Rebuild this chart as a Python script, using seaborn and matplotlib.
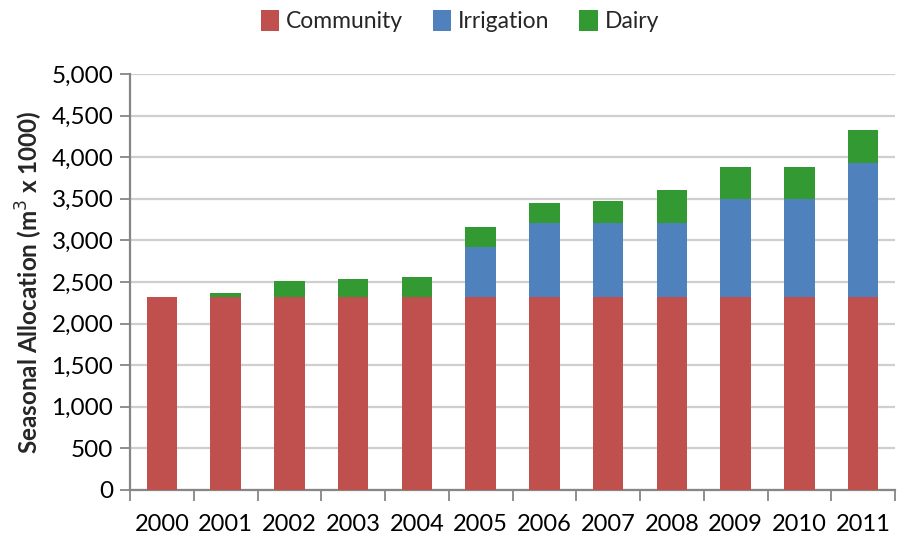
import matplotlib
matplotlib.use("Agg")
import matplotlib.pyplot as plt
import numpy as np
import pandas as pd
import seaborn as sns
from matplotlib.patches import Patch
from matplotlib.ticker import FuncFormatter, MultipleLocator, FixedLocator

years = ["2000", "2001", "2002", "2003", "2004", "2005",
         "2006", "2007", "2008", "2009", "2010", "2011"]
community = [2320, 2320, 2320, 2320, 2320, 2320, 2320, 2320, 2320, 2320, 2320, 2320]
irrigation = [0, 0, 0, 0, 0, 600, 890, 890, 890, 1180, 1180, 1615]
dairy = [0, 45, 190, 215, 240, 240, 240, 265, 390, 385, 385, 390]

series_names = ["Community", "Irrigation", "Dairy"]
series_colors = ["#C0504D", "#4F81BD", "#339933"]

df = pd.DataFrame({"Year": years, "Community": community,
                   "Irrigation": irrigation, "Dairy": dairy})
# cumulative heights for stacking: draw tallest layer first, then overlay
df["c1"] = df["Community"]
df["c2"] = df["Community"] + df["Irrigation"]
df["c3"] = df["c2"] + df["Dairy"]

sns.set_theme(style="white")
plt.rcParams["font.family"] = ["Lato", "DejaVu Sans"]

fig = plt.figure(figsize=(9, 5.41), dpi=100)
ax = fig.add_axes([130 / 900, 1 - 490 / 541, 765 / 900, 416 / 541])

for col, color in zip(["c3", "c2", "c1"], series_colors[::-1]):
    sns.barplot(data=df, x="Year", y=col, color=color, width=0.48,
                saturation=1, edgecolor="none", ax=ax, zorder=3)

ax.set_xlim(-0.5, len(years) - 0.5)
ax.set_ylim(0, 5000)
ax.yaxis.set_major_locator(MultipleLocator(500))
ax.yaxis.set_major_formatter(FuncFormatter(lambda v, p: f"{int(v):,}"))
ax.grid(axis="y", color="#CFCFCF", linewidth=1.6, zorder=0)
ax.set_axisbelow(True)

for side in ["top", "right"]:
    ax.spines[side].set_visible(False)
for side in ["left", "bottom"]:
    ax.spines[side].set_color("#868686")
    ax.spines[side].set_linewidth(1.6)

ax.tick_params(axis="y", which="major", direction="out", length=7, width=1.3,
               color="#868686", labelsize=17.5, pad=5, labelcolor="black", left=True)
ax.set_xticks(range(len(years)))
ax.set_xticklabels(years)
ax.tick_params(axis="x", which="major", length=0, pad=17, labelsize=17,
               labelcolor="black")
ax.xaxis.set_minor_locator(FixedLocator(np.arange(-0.5, len(years), 1.0)))
ax.tick_params(axis="x", which="minor", direction="out", length=8, width=1.3,
               color="#868686", bottom=True)

ax.set_xlabel("")
ax.set_ylabel("Seasonal Allocation (m$^3$ x 1000)", fontsize=17.5,
              fontweight="bold", labelpad=5)

handles = [Patch(facecolor=c, edgecolor="none", label=n)
           for n, c in zip(series_names, series_colors)]
fig.legend(handles=handles, loc="center", bbox_to_anchor=(0.511, 0.961),
           ncol=3, frameon=False, fontsize=16.5, handlelength=0.8,
           handleheight=1.0, handletextpad=0.3, columnspacing=1.3)

fig.savefig("out.png", dpi=100)
